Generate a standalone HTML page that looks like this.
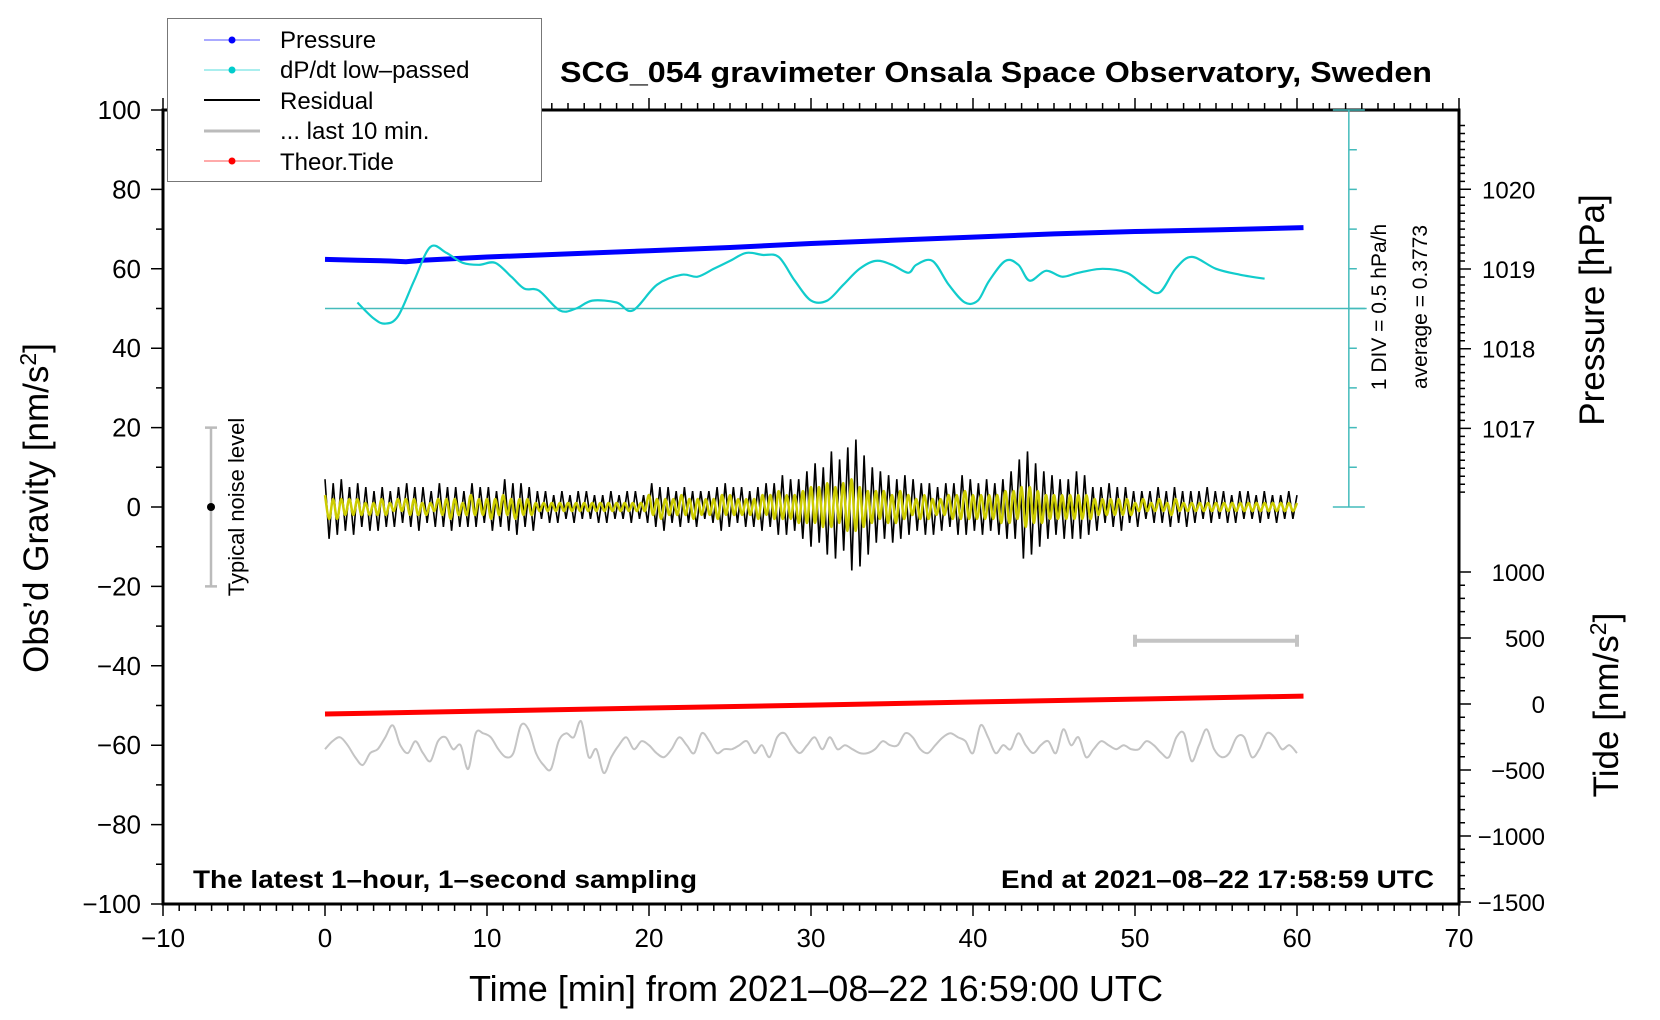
<!DOCTYPE html>
<html><head><meta charset="utf-8"><style>
html,body{margin:0;padding:0;background:#fff;}
svg{display:block;font-family:"Liberation Sans",sans-serif;}
</style></head><body>
<svg id="chart" width="1660" height="1020" viewBox="0 0 1660 1020" xmlns="http://www.w3.org/2000/svg">
<g id="ax"></g>
<g id="series"></g>
<text x="996" y="82" font-size="29" font-weight="bold" text-anchor="middle" textLength="872" lengthAdjust="spacingAndGlyphs">SCG_054 gravimeter Onsala Space Observatory, Sweden</text>
<text x="193" y="888" font-size="25" font-weight="bold" textLength="504" lengthAdjust="spacingAndGlyphs">The latest 1–hour, 1–second sampling</text>
<text x="1434" y="888" font-size="25" font-weight="bold" text-anchor="end" textLength="433" lengthAdjust="spacingAndGlyphs">End at 2021–08–22 17:58:59 UTC</text>
<text x="816" y="1001" font-size="36" text-anchor="middle" textLength="694" lengthAdjust="spacingAndGlyphs">Time [min] from 2021–08–22 16:59:00 UTC</text>
<text transform="translate(48,508) rotate(-90)" font-size="35" text-anchor="middle">Obs’d Gravity [nm/s<tspan font-size="23" dy="-12">2</tspan><tspan dy="12">]</tspan></text>
<text transform="translate(1604,310) rotate(-90)" font-size="35" text-anchor="middle">Pressure [hPa]</text>
<text transform="translate(1618,705) rotate(-90)" font-size="35" text-anchor="middle">Tide [nm/s<tspan font-size="23" dy="-12">2</tspan><tspan dy="12">]</tspan></text>
<text transform="translate(1386,307) rotate(-90)" font-size="21" text-anchor="middle">1 DIV = 0.5 hPa/h</text>
<text transform="translate(1427,307) rotate(-90)" font-size="21" text-anchor="middle">average = 0.3773</text>
<text transform="translate(244,507) rotate(-90)" font-size="22" text-anchor="middle">Typical noise level</text>
<g>
<rect x="167.5" y="18.5" width="374" height="163" fill="#fff" stroke="#777" stroke-width="1"/>
<g><line x1="204" y1="40" x2="260" y2="40" stroke="#55f" stroke-width="1"/><circle cx="232" cy="40" r="3.5" fill="#00f"/><text x="280" y="48" font-size="24">Pressure</text></g>
<g><line x1="204" y1="70" x2="260" y2="70" stroke="#5dd" stroke-width="1"/><circle cx="232" cy="70" r="3.5" fill="#0cc"/><text x="280" y="78" font-size="24">dP/dt low–passed</text></g>
<g><line x1="204" y1="100" x2="260" y2="100" stroke="#000" stroke-width="2"/><text x="280" y="109" font-size="24">Residual</text></g>
<g><line x1="204" y1="131" x2="260" y2="131" stroke="#bbb" stroke-width="3"/><text x="280" y="139" font-size="24">... last 10 min.</text></g>
<g><line x1="204" y1="161" x2="260" y2="161" stroke="#f55" stroke-width="1"/><circle cx="232" cy="161" r="3.5" fill="#f00"/><text x="280" y="170" font-size="24">Theor.Tide</text></g>
</g>
</svg>
<script>
// ---- data ----
const xTicks = [-10,0,10,20,30,40,50,60,70];
const gTicks = [100,80,60,40,20,0,-20,-40,-60,-80,-100];
const pTicks = [1020,1019,1018,1017];
const tTicks = [1000,500,0,-500,-1000,-1500];
const pressureTimes = [0,2,4,5,6,8,10,15,20,25,30,35,40,45,50,55,60.4];
const pressureVals = [1019.12,1019.11,1019.10,1019.09,1019.11,1019.13,1019.15,1019.19,1019.23,1019.27,1019.32,1019.36,1019.40,1019.44,1019.47,1019.49,1019.52];
const dpdtTimes = [2,3,3.7,4.5,5.5,6.5,7.5,8.5,9.5,10.5,11.5,12.3,13.2,14.5,15.5,16.5,18,19,20.5,22,23,24,25,26,27,28,29,30,31,32,33,34,35,36,36.5,37.5,38.5,39.5,40.3,41,42,42.8,43.5,44.5,45.5,46.5,48,49.5,50.5,51.5,52.5,53.5,55,56.5,58];
const dpdtVals = [51.5,47.5,46.2,48,57,65.5,64,61.5,61,61.5,58,55,54.5,49.5,50,52,51.5,49.5,56,58.5,58,60,62,64,63.5,63,57,52,52,56,60,62,61,59,61,62,56,51.5,52,57,62,61,57,59.5,58,59,60,59,56,54,60,63,60,58.5,57.5];
const dpdtBaseline = 50;
const residualVals = [7,-8,6,-7,7,-6,5,-7,6,-5,5,-6,4,-6,5,-5,4,-5,5,-4,6,-5,5,-6,5,-4,4,-5,6,-5,5,-6,5,-5,4,-5,6,-5,5,-4,5,-6,4,-5,7,-6,6,-7,6,-5,5,-6,4,-3,4,-4,3,-4,4,-3,3,-4,4,-3,4,-3,3,-4,3,-4,4,-3,3,-3,4,-4,4,-3,3,-4,6,-5,5,-6,5,-4,4,-5,5,-4,4,-5,4,-3,4,-4,5,-6,6,-5,5,-4,5,-5,4,-5,5,-6,6,-5,6,-7,8,-7,7,-6,7,-8,9,-10,11,-9,10,-12,14,-13,12,-11,15,-16,17,-15,13,-12,10,-9,9,-8,8,-9,7,-8,8,-7,7,-6,6,-7,6,-7,5,-6,6,-5,6,-7,8,-7,7,-6,6,-7,7,-6,6,-7,7,-8,9,-8,12,-13,14,-12,11,-10,9,-8,8,-7,7,-8,7,-8,9,-8,8,-7,5,-6,5,-4,6,-5,5,-6,5,-4,4,-5,4,-3,4,-4,5,-4,4,-5,5,-4,4,-5,4,-4,4,-3,5,-4,4,-3,4,-4,3,-4,4,-3,4,-3,3,-4,4,-3,3,-4,3,-3,4,-3,3];
const filteredVals = [3,-3,2,-3,2,-2,2,-2,2,-2,1,-2,1,-2,2,-2,1,-1,2,-1,2,-2,2,-2,1,-2,1,-1,2,-2,2,-3,2,-2,1,-2,3,-2,2,-2,2,-3,2,-2,3,-2,2,-3,2,-2,2,-2,1,-1,1,-1,1,-1,1,-1,1,-1,1,-1,1,-1,1,-1,1,-1,1,-1,1,-1,1,-1,1,-1,1,-1,3,-2,2,-3,2,-2,2,-2,3,-2,2,-3,2,-2,2,-2,2,-3,3,-2,3,-2,2,-2,2,-2,2,-3,3,-2,3,-3,4,-3,3,-3,3,-4,4,-4,5,-4,5,-5,6,-5,5,-4,6,-6,7,-6,5,-5,4,-4,4,-3,4,-4,3,-4,4,-3,3,-2,2,-3,3,-3,2,-2,2,-2,3,-3,3,-3,4,-3,3,-3,3,-3,3,-3,3,-4,4,-4,4,-3,5,-5,5,-4,4,-4,3,-3,3,-3,3,-3,3,-3,3,-3,3,-3,2,-2,2,-2,2,-2,2,-2,2,-2,1,-1,2,-1,1,-1,2,-1,1,-2,2,-1,1,-1,1,-1,1,-1,1,-1,1,-1,1,-1,1,-1,1,-1,1,-1,1,-1,1,-1,1,-1,1,-1,1,-1,1];
const last10Vals = [-61,-59,-58,-60,-63,-65,-62,-61,-58,-55,-60,-62,-59,-62,-64,-59,-58,-61,-60,-66,-57,-57,-58,-61,-63,-62,-55,-56,-62,-65,-66,-59,-57,-58,-54,-63,-61,-67,-63,-60,-58,-61,-59,-60,-62,-63,-61,-58,-60,-62,-57,-59,-62,-61,-61,-60,-59,-62,-60,-63,-58,-57,-60,-62,-60,-58,-61,-58,-61,-60,-61,-62,-62,-61,-59,-60,-60,-57,-58,-61,-62,-60,-58,-57,-58,-59,-62,-55,-58,-62,-60,-61,-57,-60,-62,-60,-59,-62,-56,-60,-58,-63,-61,-59,-60,-61,-60,-61,-61,-59,-60,-62,-63,-58,-57,-64,-60,-56,-61,-63,-62,-58,-58,-63,-61,-57,-58,-61,-60,-62];
const tideTimes = [0,10,20,30,40,50,60.4];
const tideVals = [-76,-53,-30,-8,15,37,60];
const noiseLevel = [-20,20];
const last10Bar = [50,60,-33.7];

// ---- scales ----
const X = t => 163 + (t + 10) * (1459 - 163) / 80;
const G = v => 507 - v * 3.97;
const P = p => 269 - (p - 1019) * 79.7;
const T = v => 704 - v * 0.132;
const NS = 'http://www.w3.org/2000/svg';
function mk(tag, attrs, parent) {
  const e = document.createElementNS(NS, tag);
  for (const k in attrs) e.setAttribute(k, attrs[k]);
  parent.appendChild(e);
  return e;
}
const ax = document.getElementById('ax');
const se = document.getElementById('series');

let fr = mk('rect', {x:163, y:110, width:1296, height:794, fill:'none', stroke:'#000', 'stroke-width':3}, ax);



let tp = '';
for (let t = -10; t <= 70; t++) {
  const big = t % 10 === 0;
  tp += `M${X(t)},904v${big ? 12 : 7}M${X(t)},110v${big ? -12 : -7}`;
}
for (let v = -100; v <= 100; v += 10) { tp += `M163,${G(v)}h${v % 20 === 0 ? -12 : -7}`; }
for (let p = 1016.0; p <= 1020.9; p += 0.1) { const y = P(p); if (y > 110 && y < 500) tp += `M1459,${y}h${Math.abs(p - Math.round(p)) < 0.01 ? 12 : 6}`; }
for (let v = -1500; v <= 1000; v += 100) { tp += `M1459,${T(v)}h${v % 500 === 0 ? 12 : 6}`; }
let tk = mk('path', {d:tp, stroke:'#000', 'stroke-width':1.5, fill:'none'}, ax);



xTicks.forEach(t => {
  const e = mk('text', {x:X(t), y:947, 'font-size':26, 'text-anchor':'middle'}, ax);
  e.textContent = String(t).replace('-', '−');
  
  
});
gTicks.forEach(v => {
  const e = mk('text', {x:141, y:G(v) + 9, 'font-size':26, 'text-anchor':'end'}, ax);
  e.textContent = String(v).replace('-', '−');
  
  
});
pTicks.forEach(p => {
  const e = mk('text', {x:1482, y:P(p) + 9, 'font-size':24}, ax);
  e.textContent = String(p);
  
  
});
tTicks.forEach(v => {
  const e = mk('text', {x:1545, y:T(v) + 9, 'font-size':24, 'text-anchor':'end'}, ax);
  e.textContent = String(v).replace('-', '−');
  
  
});

let sb = '';
sb += `M${X(63.2)},${G(100)}V${G(0)}M${X(63.2)-16},${G(100)}h32M${X(63.2)-16},${G(0)}h32`;
for (let v = 10; v < 100; v += 10) sb += `M${X(63.2)},${G(v)}h${v === 50 ? 16 : 8}`;
let sbe = mk('path', {d:sb, stroke:'#4bb', 'stroke-width':1.5, fill:'none'}, se);


let bl = mk('line', {x1:X(0), x2:X(64.3), y1:G(dpdtBaseline), y2:G(dpdtBaseline), stroke:'#4bb', 'stroke-width':1.5}, se);



let nl = mk('path', {d:`M211,${G(noiseLevel[1])}V${G(noiseLevel[0])}M205,${G(noiseLevel[1])}h12M205,${G(noiseLevel[0])}h12`, stroke:'#bbb', 'stroke-width':2.5, fill:'none'}, se);


let nd = mk('circle', {cx:211, cy:G(0), r:4}, se);



let lb = mk('path', {d:`M${X(last10Bar[0])},${G(last10Bar[2])}H${X(last10Bar[1])}M${X(last10Bar[0])},${G(last10Bar[2])-6}v12M${X(last10Bar[1])},${G(last10Bar[2])-6}v12`, stroke:'#c4c4c4', 'stroke-width':4, fill:'none'}, se);



function poly(xs, ys) { return xs.map((x, i) => `${i ? 'L' : 'M'}${x.toFixed(1)},${ys[i].toFixed(1)}`).join(''); }
function smooth(xs, ys) {
  let d = `M${xs[0].toFixed(1)},${ys[0].toFixed(1)}`;
  for (let i = 0; i < xs.length - 1; i++) {
    const x0 = xs[Math.max(i - 1, 0)], y0 = ys[Math.max(i - 1, 0)];
    const x1 = xs[i], y1 = ys[i], x2 = xs[i + 1], y2 = ys[i + 1];
    const x3 = xs[Math.min(i + 2, xs.length - 1)], y3 = ys[Math.min(i + 2, xs.length - 1)];
    d += `C${(x1 + (x2 - x0) / 6).toFixed(1)},${(y1 + (y2 - y0) / 6).toFixed(1)} ${(x2 - (x3 - x1) / 6).toFixed(1)},${(y2 - (y3 - y1) / 6).toFixed(1)} ${x2.toFixed(1)},${y2.toFixed(1)}`;
  }
  return d;
}

let pl = mk('path', {d:poly(pressureTimes.map(X), pressureVals.map(P)), stroke:'#00f', 'stroke-width':5, fill:'none'}, se);



let dl = mk('path', {d:smooth(dpdtTimes.map(X), dpdtVals.map(G)), stroke:'#1cc', 'stroke-width':2.2, fill:'none'}, se);



const rt = residualVals.map((v, i) => i * 60 / (residualVals.length - 1));
let rl = mk('path', {d:poly(rt.map(X), residualVals.map(G)), stroke:'#000', 'stroke-width':1.6, fill:'none'}, se);


const ft = filteredVals.map((v, i) => i * 60 / (filteredVals.length - 1));
let yl = mk('path', {d:smooth(ft.map(X), filteredVals.map(G)), stroke:'#cc0', 'stroke-width':2.5, fill:'none'}, se);



const lt = last10Vals.map((v, i) => i * 60 / (last10Vals.length - 1));
let gl = mk('path', {d:smooth(lt.map(X), last10Vals.map(G)), stroke:'#c4c4c4', 'stroke-width':2, fill:'none'}, se);



let tl = mk('path', {d:poly(tideTimes.map(X), tideVals.map(T)), stroke:'#f00', 'stroke-width':5, fill:'none'}, se);


</script>
</body></html>
